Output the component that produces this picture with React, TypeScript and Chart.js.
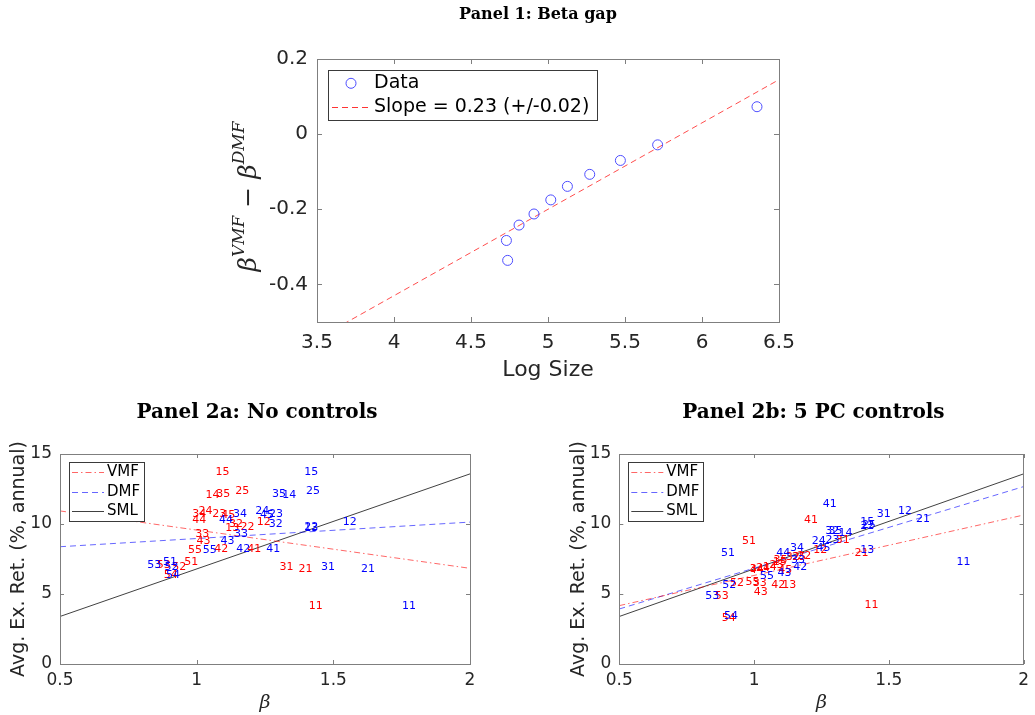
import React, { useEffect, useRef } from 'react';
import { Chart, registerables } from 'chart.js';

Chart.register(...registerables);

// ---------------- data ----------------
const panel1Title = 'Panel 1: Beta gap';
const panel2aTitle = 'Panel 2a: No controls';
const panel2bTitle = 'Panel 2b: 5 PC controls';
const logSizeLabel = 'Log Size';
const retLabel = 'Avg. Ex. Ret. (%, annual)';
const betaLabel = 'β';

const logSize = [4.73, 4.738, 4.812, 4.909, 5.018, 5.126, 5.271, 5.47, 5.712, 6.357];
const betaGap = [-0.283, -0.336, -0.242, -0.2125, -0.175, -0.139, -0.107, -0.07, -0.0285, 0.073];
const fitSlope = 0.23;
const fitIntercept = -1.35;
const dataLabel = 'Data';
const fitLabel = 'Slope = 0.23 (+/-0.02)';
const logSizeTicks = [3.5, 4, 4.5, 5, 5.5, 6, 6.5];
const betaGapTicks = [-0.4, -0.2, 0, 0.2];

const portfolios = ['11', '12', '13', '14', '15', '21', '22', '23', '24', '25', '31', '32', '33', '34', '35', '41', '42', '43', '44', '45', '51', '52', '53', '54', '55'];
const betaVMF = [1.41, 1.22, 1.105, 1.032, 1.069, 1.373, 1.16, 1.057, 1.007, 1.141, 1.303, 1.118, 0.995, 0.984, 1.072, 1.185, 1.064, 0.999, 0.984, 1.09, 0.955, 0.911, 0.854, 0.88, 0.968];
const betaDMF = [1.751, 1.534, 1.394, 1.313, 1.394, 1.601, 1.394, 1.265, 1.214, 1.4, 1.455, 1.264, 1.137, 1.133, 1.276, 1.255, 1.145, 1.087, 1.082, 1.232, 0.877, 0.882, 0.819, 0.888, 1.022];
const avgRet = [4.14, 10.14, 9.69, 12.05, 13.69, 6.81, 9.81, 10.67, 10.93, 12.38, 6.95, 9.96, 9.28, 10.72, 12.12, 8.21, 8.17, 8.79, 10.27, 10.62, 7.24, 6.92, 7.07, 6.32, 8.14];
const retVMF5PC = [4.17, 8.14, 5.6, 6.9, 7.3, 7.95, 7.7, 7.05, 6.85, 7.65, 8.86, 7.62, 5.81, 6.8, 7.45, 10.26, 5.64, 5.12, 6.71, 6.71, 8.74, 5.76, 4.88, 3.26, 5.88];
const retDMF5PC = [7.26, 10.93, 8.14, 9.33, 10.1, 10.38, 9.88, 8.86, 8.74, 9.95, 10.71, 9.52, 7.4, 8.26, 9.52, 11.4, 6.9, 6.48, 7.91, 8.31, 7.95, 5.64, 4.88, 3.45, 6.24];

const betaTicks = [0.5, 1, 1.5, 2];
const retTicks = [0, 5, 10, 15];
const lineNames = ['VMF', 'DMF', 'SML'];
const lineIntercept2a = [12.3, 7.79, 0];
const lineSlope2a = [-2.733, 1.173, 6.79];
const lineIntercept2b = [2.013, 1.017, 0];
const lineSlope2b = [4.313, 5.827, 6.79];

// ---------------- styles ----------------
const TEXT = '#262626';
const AXIS = '#7f7f7f';
const SANS = '"DejaVu Sans", sans-serif';
const SERIF = '"DejaVu Serif", serif';
const RED = '#ff0000';
const BLUE = '#0000ff';
const lineColors = ['rgba(255,0,0,0.6)', 'rgba(0,0,255,0.6)', 'rgba(0,0,0,0.75)'];
const lineDashes = [[6, 3, 1.5, 3], [6, 4], []];

function setTicks(values: number[]) {
  return (scale: any) => {
    scale.ticks = values.map((v) => ({ value: v }));
  };
}

function framePlugin(tickLen: number) {
  return {
    id: 'frame',
    afterDatasetsDraw(chart: any) {
      const { ctx, chartArea: a } = chart;
      const xs = chart.scales.x;
      const ys = chart.scales.y;
      ctx.save();
      ctx.strokeStyle = AXIS;
      ctx.lineWidth = 1;
      ctx.beginPath();
      for (const t of xs.ticks) {
        const p = Math.round(xs.getPixelForValue(t.value)) + 0.5;
        ctx.moveTo(p, a.bottom);
        ctx.lineTo(p, a.bottom - tickLen);
        ctx.moveTo(p, a.top);
        ctx.lineTo(p, a.top + tickLen);
      }
      for (const t of ys.ticks) {
        const p = Math.round(ys.getPixelForValue(t.value)) + 0.5;
        ctx.moveTo(a.left, p);
        ctx.lineTo(a.left + tickLen, p);
        ctx.moveTo(a.right, p);
        ctx.lineTo(a.right - tickLen, p);
      }
      ctx.stroke();
      ctx.strokeRect(Math.round(a.left) + 0.5, Math.round(a.top) + 0.5, Math.round(a.right - a.left), Math.round(a.bottom - a.top));
      ctx.restore();
    },
  };
}

function titlePlugin(text: string, y: number, size: number, dx: number) {
  return {
    id: 'panelTitle',
    afterDraw(chart: any) {
      const { ctx, chartArea: a } = chart;
      ctx.save();
      ctx.fillStyle = '#000';
      ctx.font = `bold ${size}px ${SERIF}`;
      ctx.textAlign = 'center';
      ctx.textBaseline = 'middle';
      ctx.fillText(text, (a.left + a.right) / 2 + dx, y);
      ctx.restore();
    },
  };
}

const pointLabelPlugin = {
  id: 'pointLabels',
  afterDatasetsDraw(chart: any) {
    const { ctx } = chart;
    chart.data.datasets.forEach((ds: any, i: number) => {
      if (!ds.pointLabels) return;
      const meta = chart.getDatasetMeta(i);
      ctx.save();
      ctx.fillStyle = ds.labelColor;
      ctx.font = `11px ${SANS}`;
      ctx.textAlign = 'left';
      ctx.textBaseline = 'middle';
      meta.data.forEach((el: any, j: number) => {
        ctx.fillText(ds.pointLabels[j], el.x, el.y);
      });
      ctx.restore();
    });
  },
};

type LegendItem = { label: string; kind: 'marker' | 'line'; color: string; dash: number[] };
type LegendGeom = { x: number; y: number; w: number; h: number; rows: number[]; l0: number; l1: number; tx: number; size: number };

function legendPlugin(items: LegendItem[], g: LegendGeom) {
  return {
    id: 'boxLegend',
    afterDraw(chart: any) {
      const { ctx, chartArea: a } = chart;
      ctx.save();
      ctx.fillStyle = '#fff';
      ctx.fillRect(a.left + g.x, a.top + g.y, g.w, g.h);
      ctx.strokeStyle = '#3a3a3a';
      ctx.lineWidth = 1;
      ctx.strokeRect(Math.round(a.left + g.x) + 0.5, Math.round(a.top + g.y) + 0.5, g.w, g.h);
      items.forEach((it, i) => {
        const yy = a.top + g.rows[i];
        ctx.strokeStyle = it.color;
        if (it.kind === 'marker') {
          ctx.setLineDash([]);
          ctx.beginPath();
          ctx.arc(a.left + (g.l0 + g.l1) / 2, yy, 5, 0, Math.PI * 2);
          ctx.stroke();
        } else {
          ctx.setLineDash(it.dash);
          ctx.beginPath();
          ctx.moveTo(a.left + g.l0, Math.round(yy) + 0.5);
          ctx.lineTo(a.left + g.l1, Math.round(yy) + 0.5);
          ctx.stroke();
          ctx.setLineDash([]);
        }
        ctx.fillStyle = '#000';
        ctx.font = `${g.size}px ${SANS}`;
        ctx.textAlign = 'left';
        ctx.textBaseline = 'middle';
        ctx.fillText(it.label, a.left + g.tx, yy);
      });
      ctx.restore();
    },
  };
}

const gapLabelPlugin = {
  id: 'gapLabel',
  afterDraw(chart: any) {
    const { ctx, chartArea: a } = chart;
    const parts = [
      { t: 'β', sup: false },
      { t: 'VMF', sup: true },
      { t: ' − ', sup: false },
      { t: 'β', sup: false },
      { t: 'DMF', sup: true },
    ];
    const fontOf = (sup: boolean) => (sup ? `italic 17px ${SERIF}` : `italic 25px ${SERIF}`);
    ctx.save();
    ctx.translate(48, (a.top + a.bottom) / 2 + 6);
    ctx.rotate(-Math.PI / 2);
    let total = 0;
    parts.forEach((p) => {
      ctx.font = fontOf(p.sup);
      total += ctx.measureText(p.t).width;
    });
    let x = -total / 2;
    ctx.fillStyle = TEXT;
    ctx.textBaseline = 'alphabetic';
    ctx.textAlign = 'left';
    parts.forEach((p) => {
      ctx.font = fontOf(p.sup);
      ctx.fillText(p.t, x, p.sup ? -4 : 8);
      x += ctx.measureText(p.t).width;
    });
    ctx.restore();
  },
};

function axisCfg(min: number, max: number, ticks: number[], size: number, padding: number, fit: (s: any) => void, title: any) {
  return {
    type: 'linear',
    min,
    max,
    afterBuildTicks: setTicks(ticks),
    afterFit: fit,
    grid: { display: false, drawTicks: false },
    border: { display: false },
    ticks: {
      font: { family: SANS, size },
      color: TEXT,
      padding,
      autoSkip: false,
      maxRotation: 0,
      callback: (v: any) => String(v),
    },
    title,
  };
}

function bottomConfig(title: string, redY: number[], blueY: number[], intercepts: number[], slopes: number[], yTitlePad: number, rightPad: number, yWidth: number) {
  const lineSets = lineNames.map((name, i) => ({
    label: name,
    data: [betaTicks[0], betaTicks[betaTicks.length - 1]].map((b) => ({ x: b, y: intercepts[i] + slopes[i] * b })),
    showLine: true,
    borderColor: lineColors[i],
    borderDash: lineDashes[i],
    borderWidth: 1,
    pointRadius: 0,
  }));
  const labelSets = [
    { label: 'VMF labels', data: betaVMF.map((b, i) => ({ x: b, y: redY[i] })), pointRadius: 0, pointLabels: portfolios, labelColor: RED },
    { label: 'DMF labels', data: betaDMF.map((b, i) => ({ x: b, y: blueY[i] })), pointRadius: 0, pointLabels: portfolios, labelColor: BLUE },
  ];
  return {
    type: 'scatter',
    data: { datasets: [...labelSets, ...lineSets] },
    options: {
      responsive: false,
      animation: false,
      devicePixelRatio: 1,
      events: [],
      layout: { padding: { top: 59, right: rightPad, left: 0, bottom: 0 } },
      plugins: { legend: { display: false }, tooltip: { enabled: false }, title: { display: false } },
      scales: {
        x: axisCfg(0.5, 2, betaTicks, 17, 6, (s: any) => { s.height = 51; }, {
          display: true, text: betaLabel, color: TEXT, font: { family: SERIF, size: 19, style: 'italic' }, padding: { top: 0, bottom: 1 },
        }),
        y: axisCfg(0, 15, retTicks, 17, 8, (s: any) => { s.width = yWidth; }, {
          display: true, text: retLabel, color: TEXT, font: { family: SANS, size: 19 }, padding: { top: yTitlePad, bottom: 0 },
        }),
      },
    },
    plugins: [
      pointLabelPlugin,
      framePlugin(4),
      titlePlugin(title, 18, 20, -8),
      legendPlugin(
        lineNames.map((n, i) => ({ label: n, kind: 'line' as const, color: lineColors[i], dash: lineDashes[i] })),
        { x: 9, y: 8, w: 75, h: 59, rows: [18.3, 37.7, 56.7], l0: 12, l1: 44, tx: 47, size: 15 }
      ),
    ],
  };
}

function topConfig() {
  return {
    type: 'scatter',
    data: {
      datasets: [
        {
          label: dataLabel,
          data: logSize.map((x, i) => ({ x, y: betaGap[i] })),
          pointStyle: 'circle',
          pointRadius: 5,
          borderWidth: 1,
          borderColor: '#4d4dff',
          backgroundColor: 'rgba(0,0,0,0)',
        },
        {
          label: fitLabel,
          data: [logSizeTicks[0], logSizeTicks[logSizeTicks.length - 1]].map((x) => ({ x, y: fitIntercept + fitSlope * x })),
          showLine: true,
          borderColor: '#ff4d4d',
          borderDash: [6, 4],
          borderWidth: 1,
          pointRadius: 0,
        },
      ],
    },
    options: {
      responsive: false,
      animation: false,
      devicePixelRatio: 1,
      events: [],
      layout: { padding: { top: 59, right: 56, left: 0, bottom: 0 } },
      plugins: { legend: { display: false }, tooltip: { enabled: false }, title: { display: false } },
      scales: {
        x: axisCfg(3.5, 6.5, logSizeTicks, 20, 9, (s: any) => { s.height = 73; }, {
          display: true, text: logSizeLabel, color: TEXT, font: { family: SANS, size: 22 }, padding: { top: 0, bottom: 12 },
        }),
        y: axisCfg(-0.5, 0.2, betaGapTicks, 20, 9, (s: any) => { s.width = 117; }, { display: false }),
      },
    },
    plugins: [
      framePlugin(5),
      gapLabelPlugin,
      titlePlugin(panel1Title, 15, 16, -10),
      legendPlugin(
        [
          { label: dataLabel, kind: 'marker', color: '#4d4dff', dash: [] },
          { label: fitLabel, kind: 'line', color: '#ff3333', dash: [6, 4] },
        ],
        { x: 11, y: 11, w: 269, h: 50, rows: [24.3, 47.7], l0: 15, l1: 53, tx: 57, size: 19 }
      ),
    ],
  };
}

export default function App() {
  const topRef = useRef<HTMLCanvasElement>(null);
  const leftRef = useRef<HTMLCanvasElement>(null);
  const rightRef = useRef<HTMLCanvasElement>(null);

  useEffect(() => {
    const charts: Chart[] = [];
    if (topRef.current) charts.push(new Chart(topRef.current, topConfig() as any));
    if (leftRef.current)
      charts.push(new Chart(leftRef.current, bottomConfig(panel2aTitle, avgRet, avgRet, lineIntercept2a, lineSlope2a, 8, 20, 60) as any));
    if (rightRef.current)
      charts.push(new Chart(rightRef.current, bottomConfig(panel2bTitle, retVMF5PC, retDMF5PC, lineIntercept2b, lineSlope2b, 18, 5.6, 69.3) as any));
    return () => charts.forEach((c) => c.destroy());
  }, []);

  return (
    <div style={{ position: 'fixed', left: 0, top: 0, width: 1035, height: 715, background: '#fff' }}>
      <canvas ref={topRef} width={635} height={395} style={{ position: 'absolute', left: 200, top: 0, width: 635, height: 395 }} />
      <canvas ref={leftRef} width={490} height={320} style={{ position: 'absolute', left: 0, top: 395, width: 490, height: 320 }} />
      <canvas ref={rightRef} width={485} height={320} style={{ position: 'absolute', left: 550, top: 395, width: 485, height: 320 }} />
    </div>
  );
}
